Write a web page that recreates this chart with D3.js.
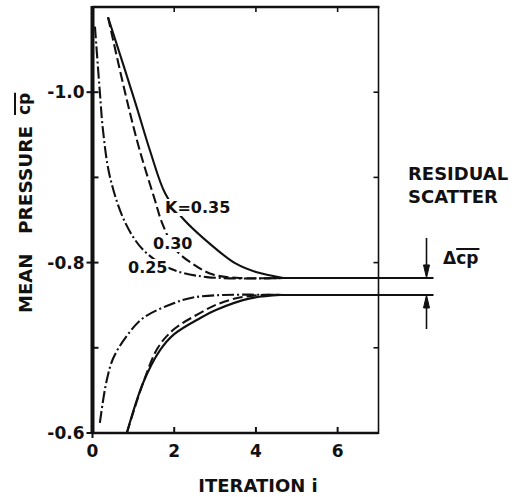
<!DOCTYPE html>
<html>
<head>
<meta charset="utf-8">
<script src="https://cdn.jsdelivr.net/npm/d3@7"></script>
<style>
  html, body { margin: 0; padding: 0; background: #fff; }
  svg { display: block; }
  text { font-family: "DejaVu Sans", sans-serif; font-weight: bold; fill: #111; }
</style>
</head>
<body>
<svg id="chart" width="515" height="497"></svg>
<script>
// Iteration axis and pressure axis ticks
const iterTicks = [0, 2, 4, 6];
const iterFrameTicks = [2, 4, 6];
const cpMajorTicks = [-0.6, -0.8, -1.0];
const cpMinorTicks = [-0.7, -0.9];
const cpTickLabels = ["-0.6", "-0.8", "-1.0"];

// Convergence histories [iteration, mean cp]; upper branch approaches from suction side
const upperK035 = [[0.38, -1.088], [1.04, -0.989], [1.41, -0.931], [1.78, -0.881], [2.19, -0.853], [3.05, -0.815], [3.5, -0.799], [4.0, -0.789], [4.67, -0.782]];
const upperK030 = [[0.38, -1.088], [0.85, -0.989], [1.16, -0.931], [1.53, -0.873], [1.70, -0.847], [2.02, -0.816], [2.5, -0.797], [2.95, -0.786], [3.6, -0.782], [4.7, -0.782]];
const upperK025 = [[0.06, -1.077], [0.18, -1.0], [0.26, -0.954], [0.43, -0.9], [0.8, -0.847], [1.24, -0.815], [1.9, -0.793], [2.8, -0.783], [4.7, -0.782]];

// Lower branch approaches from the pressure side
const lowerK035 = [[0.84, -0.6], [1.24, -0.659], [1.65, -0.697], [2.0, -0.716], [2.64, -0.735], [3.05, -0.745], [3.86, -0.758], [4.6, -0.762]];
const lowerK030 = [[0.84, -0.6], [1.24, -0.659], [1.6, -0.7], [2.0, -0.722], [2.64, -0.741], [3.05, -0.751], [3.6, -0.759], [4.2, -0.762], [4.7, -0.762]];
const lowerK025 = [[0.18, -0.612], [0.34, -0.660], [0.51, -0.688], [0.84, -0.714], [1.24, -0.735], [1.97, -0.752], [2.46, -0.759], [3.2, -0.762], [4.7, -0.762]];

// Converged levels bounding the residual scatter
const residualLevels = [-0.782, -0.762];
const residualStart = 4.6;

const kLabels = ["K=0.35", "0.30", "0.25"];

const svg = d3.select("#chart");
const x = d3.scaleLinear().domain([0, 7]).range([92.5, 378.5]);
const y = d3.scaleLinear().domain([-0.6, -1.1]).range([433, 7]);

const ink = "#111";
const solid = null, dashed = "10,4", dashDot = "12,3,2,3";

// Curves
const line = d3.line().x(d => x(d[0])).y(d => y(d[1])).curve(d3.curveCatmullRom.alpha(0.5));
const series = [
  [upperK035, solid], [upperK030, dashed], [upperK025, dashDot],
  [lowerK035, solid], [lowerK030, dashed], [lowerK025, dashDot]
];
const curves = svg.append("g").attr("fill", "none").attr("stroke", ink).attr("stroke-width", 2.1);
series.forEach(([data, dash]) => {
  curves.append("path").attr("d", line(data)).attr("stroke-dasharray", dash);
});

// Residual lines extend past the frame to the scatter arrows
const xEnd = x.range()[1] + 55;
const arrowX = x.range()[1] + 48;
svg.append("g").selectAll("line").data(residualLevels).join("line")
  .attr("x1", x(residualStart)).attr("x2", xEnd)
  .attr("y1", d => y(d)).attr("y2", d => y(d))
  .attr("stroke", ink).attr("stroke-width", 2);

// Curve labels with a white knockout
const labelPos = [[165, 213], [153, 249], [128, 273]];
const lab = svg.append("g");
kLabels.forEach((t, i) => {
  const tx = lab.append("text").attr("x", labelPos[i][0]).attr("y", labelPos[i][1])
    .attr("font-size", 16).text(t);
  const bb = tx.node().getBBox();
  lab.insert("rect", "text").attr("x", bb.x - 1).attr("y", bb.y + 1)
    .attr("width", bb.width + 2).attr("height", bb.height - 2).attr("fill", "#fff");
});

// Frame
const [x0, x1] = x.range();
const [yb, yt] = y.range();
const frame = svg.append("g").attr("stroke", ink).attr("fill", "none");
frame.append("line").attr("x1", x0).attr("x2", x0).attr("y1", yt - 1).attr("y2", yb + 1).attr("stroke-width", 4);
frame.append("line").attr("x1", x0).attr("x2", x1).attr("y1", yb).attr("y2", yb).attr("stroke-width", 2.5);
frame.append("line").attr("x1", x0).attr("x2", x1 + 1).attr("y1", yt).attr("y2", yt).attr("stroke-width", 2.5);
frame.append("line").attr("x1", x1).attr("x2", x1).attr("y1", yt).attr("y2", yb + 1).attr("stroke-width", 1.6);

// Ticks on all four sides
cpMajorTicks.forEach(v => {
  frame.append("line").attr("x1", x0 - 6).attr("x2", x0 + 6).attr("y1", y(v)).attr("y2", y(v)).attr("stroke-width", 2);
});
cpMinorTicks.forEach(v => {
  frame.append("line").attr("x1", x0).attr("x2", x0 + 6).attr("y1", y(v)).attr("y2", y(v)).attr("stroke-width", 2);
});
cpMajorTicks.concat(cpMinorTicks).forEach(v => {
  frame.append("line").attr("x1", x1 - 5).attr("x2", x1).attr("y1", y(v)).attr("y2", y(v)).attr("stroke-width", 1.6);
});
iterFrameTicks.forEach(v => {
  frame.append("line").attr("x1", x(v)).attr("x2", x(v)).attr("y1", yb).attr("y2", yb - 6).attr("stroke-width", 2);
  frame.append("line").attr("x1", x(v)).attr("x2", x(v)).attr("y1", yt).attr("y2", yt + 5).attr("stroke-width", 1.6);
});
frame.append("line").attr("x1", x0).attr("x2", x0).attr("y1", yb).attr("y2", yb + 5).attr("stroke-width", 2);

// Tick labels
svg.append("g").selectAll("text").data(cpMajorTicks).join("text")
  .attr("x", x0 - 8).attr("y", d => y(d) + 6).attr("text-anchor", "end")
  .attr("font-size", 17).text((d, i) => cpTickLabels[i]);
svg.append("g").selectAll("text").data(iterTicks).join("text")
  .attr("x", d => x(d)).attr("y", 457).attr("text-anchor", "middle")
  .attr("font-size", 17).text(d => d);

// Axis titles
svg.append("text").attr("x", 258).attr("y", 492).attr("text-anchor", "middle")
  .attr("font-size", 18).text("ITERATION i");

const yTitle = svg.append("g").attr("transform", "translate(32,313) rotate(-90)");
yTitle.append("text").attr("x", 0).attr("y", 0).attr("font-size", 18).text("MEAN");
yTitle.append("text").attr("x", 79).attr("y", 0).attr("font-size", 18.5).text("PRESSURE");
const cpText = yTitle.append("text").attr("x", 198).attr("y", -2).attr("font-size", 17).text("cp");
{
  const w = cpText.node().getComputedTextLength();
  yTitle.append("line").attr("x1", 198).attr("x2", 198 + w).attr("y1", -17).attr("y2", -17)
    .attr("stroke", ink).attr("stroke-width", 2);
}

// Residual scatter annotation
svg.append("text").attr("x", 408).attr("y", 180).attr("font-size", 18).text("RESIDUAL");
svg.append("text").attr("x", 408).attr("y", 203).attr("font-size", 18).text("SCATTER");

const dTxt = svg.append("text").attr("x", 443).attr("y", 264).attr("font-size", 17);
dTxt.append("tspan").text("Δ");
const dcp = dTxt.append("tspan").attr("dx", 0).text("cp");
{
  const bbAll = dTxt.node().getBBox();
  const cpW = dcp.node().getComputedTextLength();
  svg.append("line").attr("x1", bbAll.x + bbAll.width - cpW).attr("x2", bbAll.x + bbAll.width + 1)
    .attr("y1", 249).attr("y2", 249).attr("stroke", ink).attr("stroke-width", 2);
}

// Arrows pointing at the two converged levels
const arrows = svg.append("g").attr("stroke", ink).attr("fill", ink);
const yUp = y(residualLevels[0]), yLo = y(residualLevels[1]);
arrows.append("line").attr("x1", arrowX).attr("x2", arrowX).attr("y1", yUp - 40).attr("y2", yUp - 8).attr("stroke-width", 1.6);
arrows.append("path").attr("d", `M${arrowX - 3},${yUp - 13} L${arrowX + 3},${yUp - 13} L${arrowX},${yUp} Z`).attr("stroke-width", 1);
arrows.append("line").attr("x1", arrowX).attr("x2", arrowX).attr("y1", yLo + 34).attr("y2", yLo + 8).attr("stroke-width", 1.6);
arrows.append("path").attr("d", `M${arrowX - 3},${yLo + 13} L${arrowX + 3},${yLo + 13} L${arrowX},${yLo} Z`).attr("stroke-width", 1);
</script>
</body>
</html>
